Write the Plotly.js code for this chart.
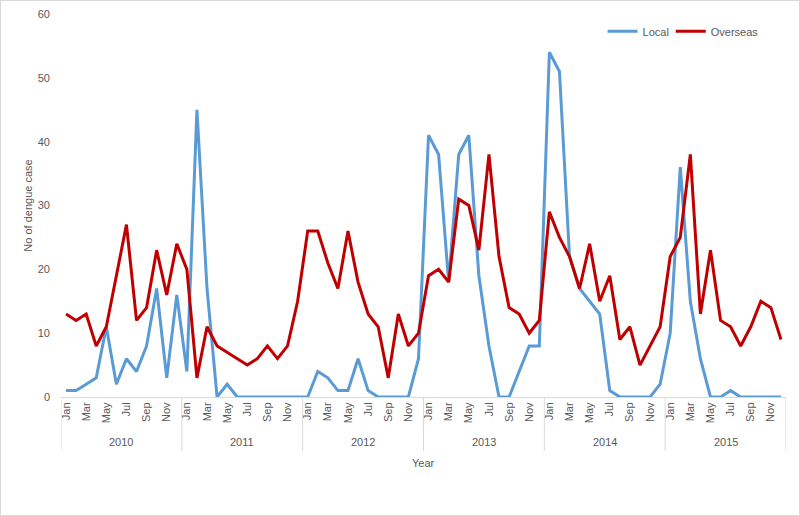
<!DOCTYPE html>
<html><head><meta charset="utf-8">
<script src="https://cdn.plot.ly/plotly-3.0.1.min.js"></script>
<style>
html,body{margin:0;padding:0;background:#fff;}
#wrap{width:798px;height:514px;border:1px solid #d9d9d9;}
#chart{width:798px;height:514px;}
</style></head>
<body><div id="wrap"><div id="chart"></div></div>
<script>
const years = ['2010','2011','2012','2013','2014','2015'];
const months = ['Jan','Feb','Mar','Apr','May','Jun','Jul','Aug','Sep','Oct','Nov','Dec'];
const shownMonths = ['Jan','Mar','May','Jul','Sep','Nov'];
const localCases = [
  1,1,2,3,11,2,6,4,8,17,3,16,
  4,45,17,0,2,0,0,0,0,0,0,0,
  0,4,3,1,1,6,1,0,0,0,0,6,
  41,38,18,38,41,19,8,0,0,4,8,8,
  54,51,22,17,15,13,1,0,0,0,0,2,
  10,36,15,6,0,0,1,0,0,0,0,0
];
const overseasCases = [
  13,12,13,8,11,19,27,12,14,23,16,24,
  20,3,11,8,7,6,5,6,8,6,8,15,
  26,26,21,17,26,18,13,11,3,13,8,10,
  19,20,18,31,30,23,38,22,14,13,10,12,
  29,25,22,17,24,15,19,9,11,5,8,11,
  22,25,38,13,23,12,11,8,11,15,14,9
];

const cats = [];
years.forEach(y => months.forEach(m => cats.push(y + ' ' + m)));
const tickvals = cats.filter(c => shownMonths.includes(c.split(' ')[1]));
const ticktext = tickvals.map(c => c.split(' ')[1]);

const font = {family: 'Liberation Sans, Arial, sans-serif', size: 11, color: '#595959'};

const traces = [
  {x: cats, y: localCases, name: 'Local', type: 'scatter', mode: 'lines',
   line: {color: '#5B9BD5', width: 3}, legend: 'legend'},
  {x: cats, y: overseasCases, name: 'Overseas', type: 'scatter', mode: 'lines',
   line: {color: '#C00000', width: 3}, legend: 'legend2'}
];

const plotH = 514 - 13 - 118;
const sepDepth = 54 / plotH;
const shapes = [];
for (let i = 0; i <= years.length; i++) {
  const xv = i * 12 - 0.5;
  shapes.push({type: 'line', xref: 'x', yref: 'paper', x0: xv, x1: xv, y0: 0, y1: -sepDepth,
    line: {color: '#d9d9d9', width: 1}});
}
const annotations = years.map((y, i) => ({
  text: y, xref: 'x', yref: 'paper', x: i * 12 + 5.5, y: 0, yshift: -45,
  showarrow: false, font: font, xanchor: 'center', yanchor: 'middle'
}));
annotations.push({text: 'Year', xref: 'paper', yref: 'paper', x: 0.5, y: 0, yshift: -66,
  showarrow: false, font: font, xanchor: 'center', yanchor: 'middle'});

const legendBase = {orientation: 'h', xanchor: 'left', y: 0.955, yanchor: 'middle',
  font: font, bgcolor: 'rgba(0,0,0,0)'};

const layout = {
  width: 798, height: 514,
  margin: {l: 60, r: 13, t: 13, b: 118},
  paper_bgcolor: '#fff', plot_bgcolor: '#fff',
  font: font,
  showlegend: true,
  legend: Object.assign({}, legendBase, {x: 0.747}),
  legend2: Object.assign({}, legendBase, {x: 0.841}),
  xaxis: {type: 'category', categoryorder: 'array', categoryarray: cats,
    range: [-0.5, cats.length - 0.5],
    tickmode: 'array', tickvals: tickvals, ticktext: ticktext, tickangle: -90,
    showgrid: false, zeroline: false, showline: true, linecolor: '#d9d9d9', linewidth: 1,
    ticks: '', ticklen: 0, tickfont: font},
  yaxis: {range: [0, 60], dtick: 10, tick0: 0, showgrid: false, zeroline: false,
    showline: false, ticks: '', tickfont: font, ticklabelstandoff: 10,
    title: {text: 'No of dengue case', font: font, standoff: 2}},
  shapes: shapes,
  annotations: annotations
};

Plotly.newPlot('chart', traces, layout, {displayModeBar: false, staticPlot: true});
</script></body></html>
